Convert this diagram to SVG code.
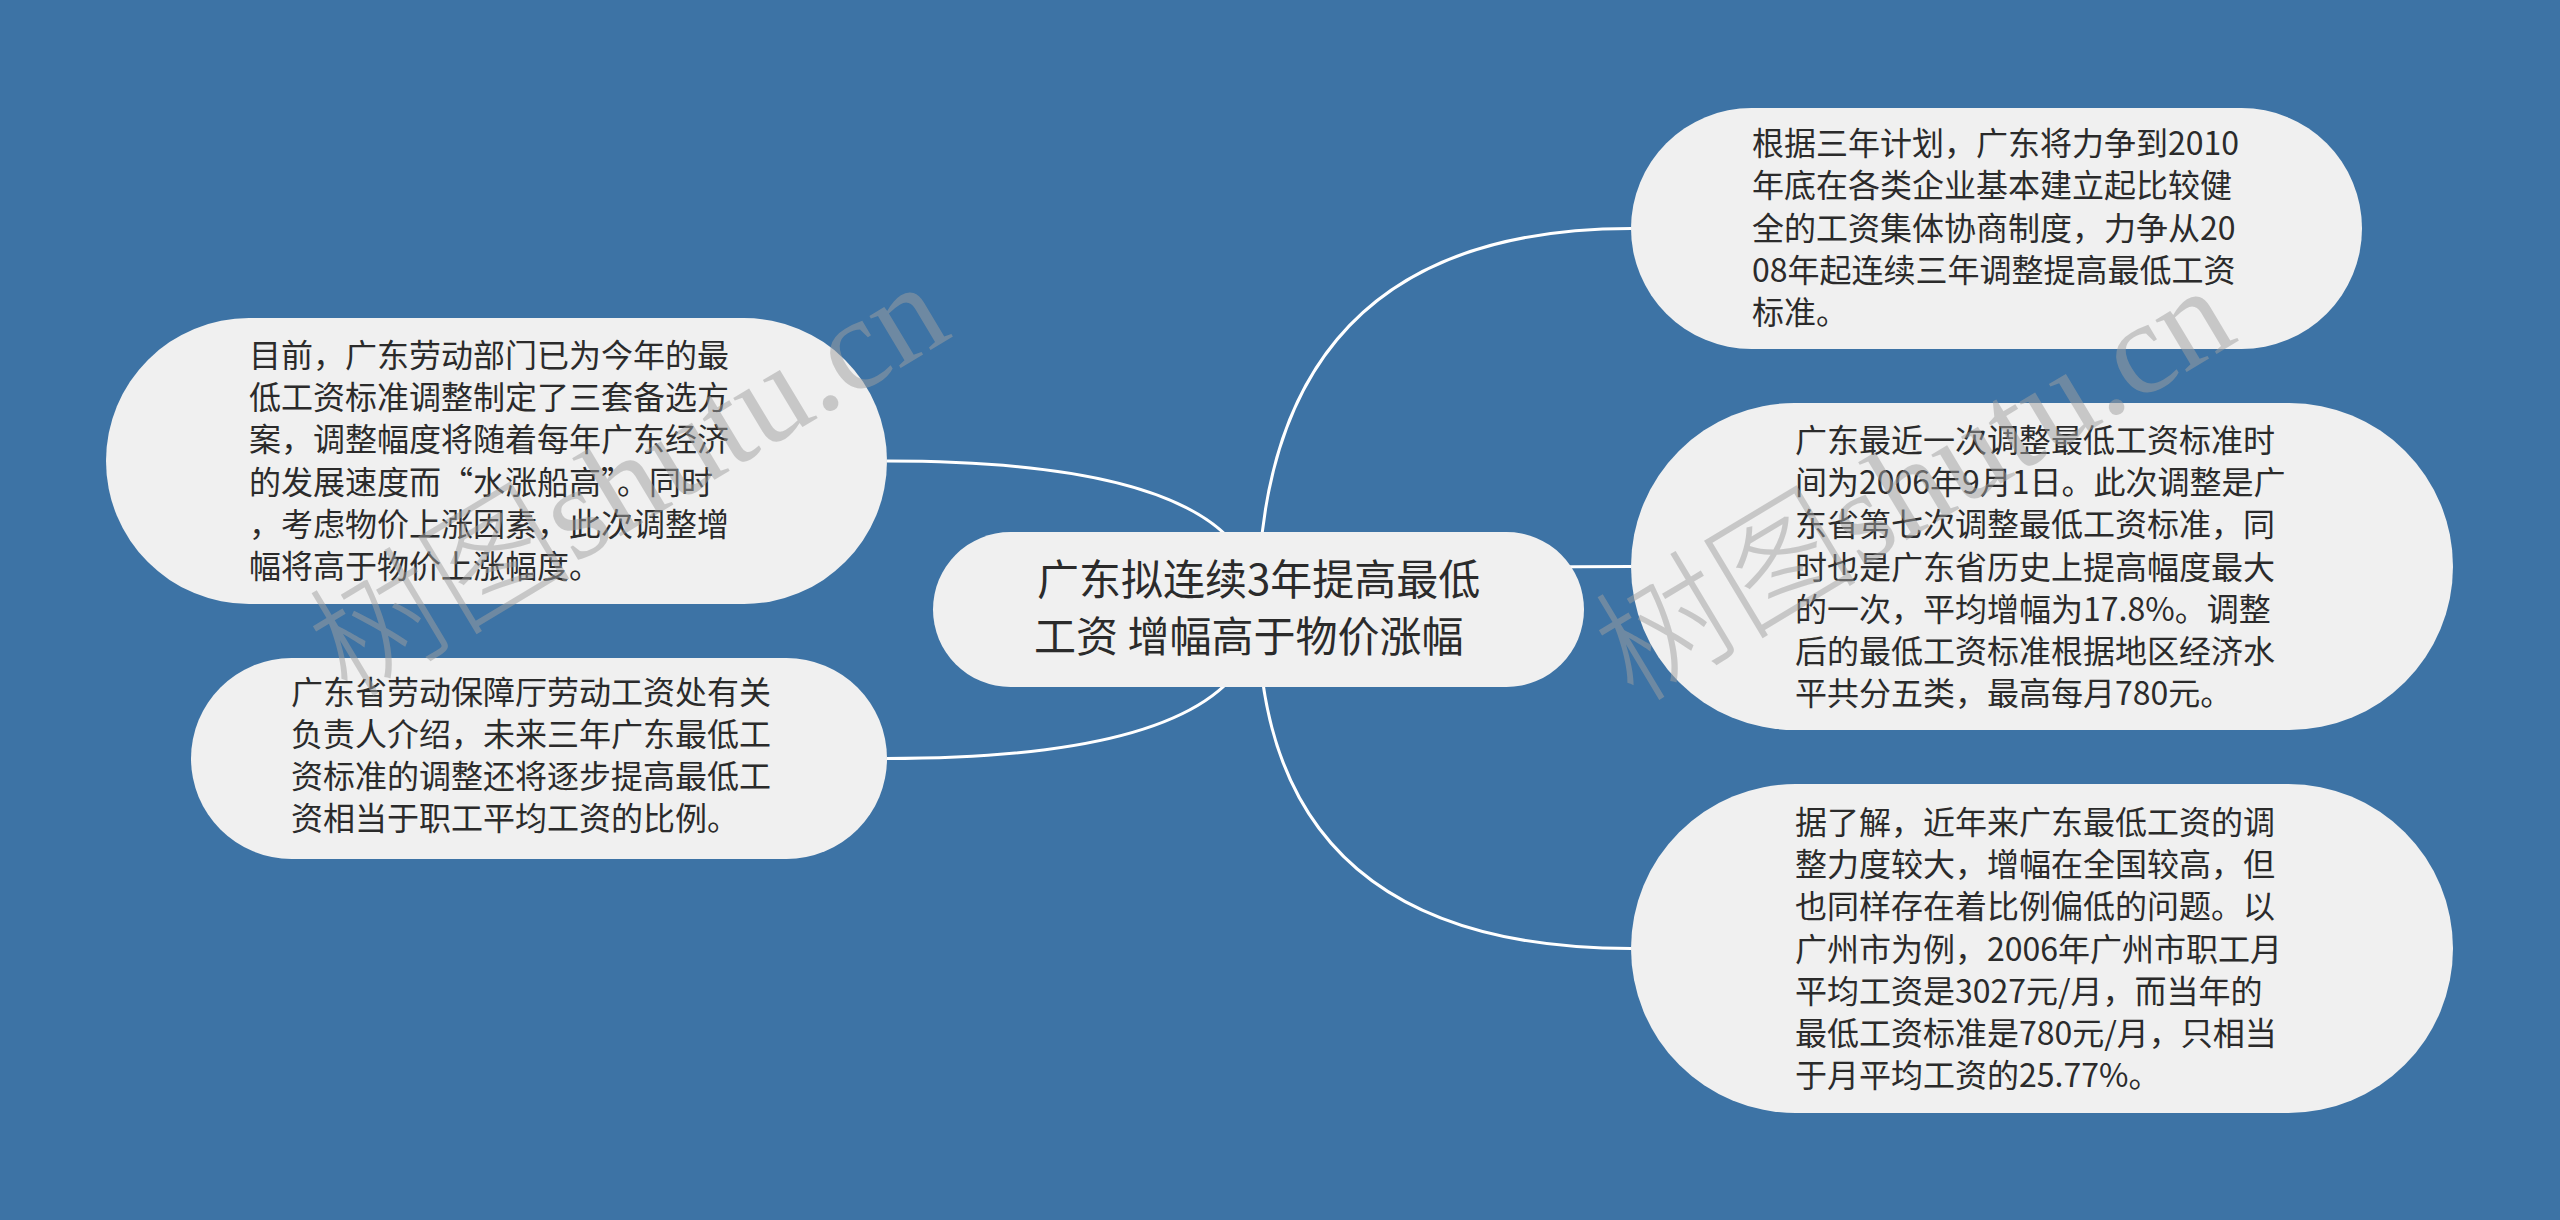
<svg xmlns="http://www.w3.org/2000/svg" width="2560" height="1220" viewBox="0 0 2560 1220">
  <style>
    .bg { fill: #3d73a5; }
    .node { fill: #f0f0f0; }
    .txt { font-family: "Noto Sans CJK SC", "Noto Sans", sans-serif; font-size: 32px; fill: #2b2b2b; }
    .root { font-family: "Noto Sans CJK SC", "Noto Sans", sans-serif; font-size: 42px; fill: #2b2b2b; }
    .edge { fill: none; stroke: #ffffff; stroke-width: 3; }
    .wm { font-family: "Liberation Serif", "Noto Sans CJK SC", serif; font-size: 132px; font-weight: 300; fill: #a0a0a0; opacity: 0.5; }
  </style>
  <rect class="bg" x="0" y="0" width="2560" height="1220"/>

  <g id="connectors">
    <path class="edge" d="M1258,609.5 Q1258,461 887,461"/>
    <path class="edge" d="M1258,609.5 Q1258,758.5 887,758.5"/>
    <path class="edge" d="M1258,609.5 Q1258,228.5 1631,228.5"/>
    <path class="edge" d="M1258,609.5 Q1258,566.5 1631,566.5"/>
    <path class="edge" d="M1258,609.5 Q1258,948.5 1631,948.5"/>
  </g>

  <g id="root">
    <rect class="node" x="933" y="532" width="651" height="155" rx="77.5" ry="77.5"/>
    <text class="root">
      <tspan x="1037" y="595">广东拟连续3年提高最低</tspan>
      <tspan x="1034" y="652">工资 增幅高于物价涨幅</tspan>
    </text>
  </g>

  <g id="node-left-1">
    <rect class="node" x="106" y="318" width="781" height="286" rx="143" ry="143"/>
    <text class="txt">
      <tspan x="249" y="367">目前，广东劳动部门已为今年的最</tspan>
      <tspan x="249" y="409">低工资标准调整制定了三套备选方</tspan>
      <tspan x="249" y="451">案，调整幅度将随着每年广东经济</tspan>
      <tspan x="249" y="494">的发展速度而“水涨船高”。同时</tspan>
      <tspan x="249" y="536">，考虑物价上涨因素，此次调整增</tspan>
      <tspan x="249" y="578">幅将高于物价上涨幅度。</tspan>
    </text>
  </g>

  <g id="node-left-2">
    <rect class="node" x="191" y="658" width="696" height="201" rx="100.5" ry="100.5"/>
    <text class="txt">
      <tspan x="291" y="704">广东省劳动保障厅劳动工资处有关</tspan>
      <tspan x="291" y="746">负责人介绍，未来三年广东最低工</tspan>
      <tspan x="291" y="788">资标准的调整还将逐步提高最低工</tspan>
      <tspan x="291" y="830">资相当于职工平均工资的比例。</tspan>
    </text>
  </g>

  <g id="node-right-1">
    <rect class="node" x="1631" y="108" width="731" height="241" rx="120.5" ry="120.5"/>
    <text class="txt">
      <tspan x="1752" y="155">根据三年计划，广东将力争到2010</tspan>
      <tspan x="1752" y="197">年底在各类企业基本建立起比较健</tspan>
      <tspan x="1752" y="240">全的工资集体协商制度，力争从20</tspan>
      <tspan x="1752" y="282">08年起连续三年调整提高最低工资</tspan>
      <tspan x="1752" y="324">标准。</tspan>
    </text>
  </g>

  <g id="node-right-2">
    <rect class="node" x="1631" y="403" width="822" height="327" rx="163.5" ry="163.5"/>
    <text class="txt">
      <tspan x="1795" y="452">广东最近一次调整最低工资标准时</tspan>
      <tspan x="1795" y="494">间为2006年9月1日。此次调整是广</tspan>
      <tspan x="1795" y="536">东省第七次调整最低工资标准，同</tspan>
      <tspan x="1795" y="579">时也是广东省历史上提高幅度最大</tspan>
      <tspan x="1795" y="621">的一次，平均增幅为17.8%。调整</tspan>
      <tspan x="1795" y="663">后的最低工资标准根据地区经济水</tspan>
      <tspan x="1795" y="705">平共分五类，最高每月780元。</tspan>
    </text>
  </g>

  <g id="node-right-3">
    <rect class="node" x="1631" y="784" width="822" height="329" rx="164.5" ry="164.5"/>
    <text class="txt">
      <tspan x="1795" y="834">据了解，近年来广东最低工资的调</tspan>
      <tspan x="1795" y="876">整力度较大，增幅在全国较高，但</tspan>
      <tspan x="1795" y="918">也同样存在着比例偏低的问题。以</tspan>
      <tspan x="1795" y="961">广州市为例，2006年广州市职工月</tspan>
      <tspan x="1795" y="1003">平均工资是3027元/月，而当年的</tspan>
      <tspan x="1795" y="1045">最低工资标准是780元/月，只相当</tspan>
      <tspan x="1795" y="1087">于月平均工资的25.77%。</tspan>
    </text>
  </g>

  <g id="watermark">
    <text class="wm" transform="translate(348,700) rotate(-31)">树图shutu.cn</text>
    <text class="wm" transform="translate(1634,704) rotate(-31)">树图shutu.cn</text>
  </g>
</svg>
